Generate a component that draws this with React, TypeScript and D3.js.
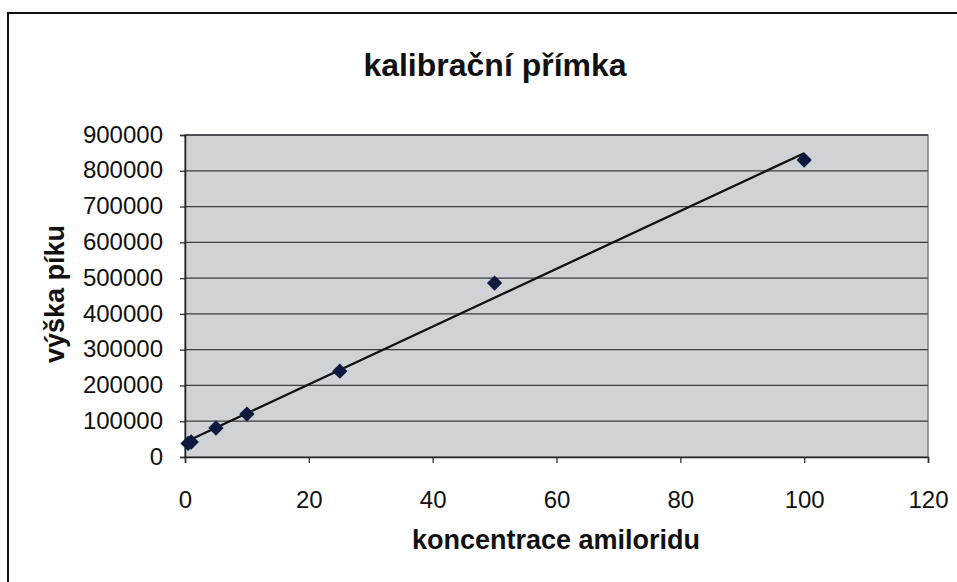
import React, { useEffect, useRef } from "react";
import * as d3 from "d3";

// calibration points: concentration of amiloride vs peak height
const concentrations = [0.5, 1, 5, 10, 25, 50, 100];
const peakHeights = [38000, 42000, 81000, 120000, 240000, 486000, 830000];
const yTicks = [0, 100000, 200000, 300000, 400000, 500000, 600000, 700000, 800000, 900000];
const xTicks = [0, 20, 40, 60, 80, 100, 120];

const title = "kalibrační přímka";
const xTitle = "koncentrace amiloridu";
const yTitle = "výška píku";

const W = 957;
const H = 582;
const margin = { left: 185, top: 135, right: 29, bottom: 125 };

export default function App() {
  const ref = useRef<SVGSVGElement>(null);

  useEffect(() => {
    const svg = d3.select(ref.current);
    svg.selectAll("*").remove();
    const font = "'Liberation Sans', Arial, sans-serif";

    const innerW = W - margin.left - margin.right;
    const innerH = H - margin.top - margin.bottom;

    // outer chart frame (right and bottom edges fall outside the picture)
    svg.append("rect").attr("x", 8).attr("y", 13).attr("width", W + 10).attr("height", H + 10)
      .attr("fill", "#fff").attr("stroke", "#111").attr("stroke-width", 2);

    const xScale = d3.scaleLinear().domain([0, 120]).range([0, innerW]);
    const yScale = d3.scaleLinear().domain([0, 900000]).range([innerH, 0]);

    const chart = svg.append("g").attr("transform", `translate(${margin.left},${margin.top})`);

    chart.append("rect").attr("width", innerW).attr("height", innerH)
      .attr("fill", "#cfd3d5").attr("stroke", "#7a7e80").attr("stroke-width", 1.5);

    // gridlines
    chart.selectAll(".grid").data(yTicks.filter(t => t > 0)).join("line").attr("class", "grid")
      .attr("x1", 0).attr("x2", innerW)
      .attr("y1", d => yScale(d)).attr("y2", d => yScale(d))
      .attr("stroke", "#3a3d40").attr("stroke-width", 1.3);

    const yAxis = d3.axisLeft(yScale).tickValues(yTicks).tickSize(5).tickPadding(17).tickFormat(d => String(d));
    const xAxis = d3.axisBottom(xScale).tickValues(xTicks).tickSize(6).tickPadding(28).tickFormat(d => String(d));

    const gy = chart.append("g").call(yAxis);
    const gx = chart.append("g").attr("transform", `translate(0,${innerH})`).call(xAxis);
    [gx, gy].forEach(g => {
      g.select(".domain").attr("stroke", "#222").attr("stroke-width", 1.5);
      g.selectAll(".tick line").attr("stroke", "#333").attr("stroke-width", 1.3);
      g.selectAll(".tick text").attr("fill", "#111").attr("font-family", font).attr("font-size", 24);
    });
    gy.selectAll(".tick text").attr("dy", "0.3em");
    gx.selectAll(".tick text").attr("dy", "0.71em");

    // least-squares trendline from the points
    const mx = d3.mean(concentrations) as number;
    const my = d3.mean(peakHeights) as number;
    const sxy = d3.sum(concentrations, (x, i) => (x - mx) * (peakHeights[i] - my));
    const sxx = d3.sum(concentrations, x => (x - mx) * (x - mx));
    const slope = sxy / sxx;
    const intercept = my - slope * mx;
    const ext = d3.extent(concentrations) as [number, number];
    const line = d3.line<number>().x(d => xScale(d)).y(d => yScale(slope * d + intercept));
    chart.append("path").datum(ext).attr("d", line).attr("fill", "none")
      .attr("stroke", "#111").attr("stroke-width", 2.3);

    const points = concentrations.map((c, i) => ({ c, v: peakHeights[i] }));
    chart.selectAll(".pt").data(points).join("path").attr("class", "pt")
      .attr("d", d3.symbol(d3.symbolDiamond2, 150))
      .attr("transform", d => `translate(${xScale(d.c)},${yScale(d.v)})`)
      .attr("fill", "#0d1a3d");

    svg.append("text").attr("x", 495).attr("y", 76).attr("text-anchor", "middle")
      .attr("font-family", font).attr("font-weight", "bold").attr("font-size", 32).attr("fill", "#111")
      .text(title);

    svg.append("text").attr("x", 556).attr("y", 549).attr("text-anchor", "middle")
      .attr("font-family", font).attr("font-weight", "bold").attr("font-size", 27).attr("fill", "#111")
      .text(xTitle);

    svg.append("text").attr("transform", `translate(64,294) rotate(-90)`)
      .attr("text-anchor", "middle")
      .attr("font-family", font).attr("font-weight", "bold").attr("font-size", 27).attr("fill", "#111")
      .text(yTitle);
  }, []);

  return (
    <svg ref={ref} width={W} height={H} style={{ position: "absolute", left: 0, top: 0, background: "#fff" }} />
  );
}
